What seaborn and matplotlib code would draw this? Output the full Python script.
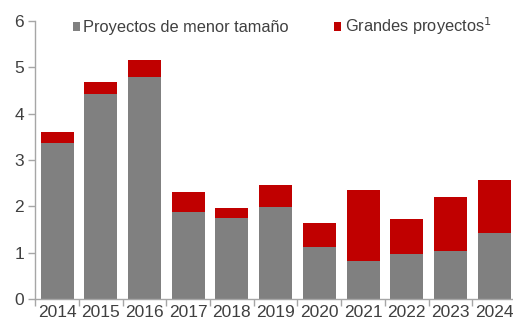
import matplotlib
matplotlib.use("Agg")
import matplotlib.pyplot as plt
import seaborn as sns
import pandas as pd
import numpy as np
from matplotlib.ticker import FixedLocator

years = ["2014", "2015", "2016", "2017", "2018", "2019", "2020", "2021", "2022", "2023", "2024"]
menor = [3.37, 4.43, 4.80, 1.88, 1.75, 1.98, 1.12, 0.81, 0.98, 1.04, 1.42]
grandes = [0.24, 0.26, 0.36, 0.43, 0.22, 0.47, 0.52, 1.55, 0.75, 1.16, 1.14]

total = [a + b for a, b in zip(menor, grandes)]
df = pd.DataFrame({"year": years, "menor": menor, "total": total})

GREY = "#808080"
RED = "#C00000"
TEXT = "#404040"
AXIS = "#A6A6A6"

sns.set_theme(style="white")
plt.rcParams["font.family"] = ["Liberation Sans", "DejaVu Sans"]

fig = plt.figure(figsize=(5.13, 3.25), dpi=100)
ax = fig.add_axes([35.2 / 513, 1 - 299 / 325, 1 - 35.2 / 513, (299 - 21) / 325])

# stacked bars: red total drawn first, grey base drawn on top
sns.barplot(data=df, x="year", y="total", color=RED, width=0.755,
            saturation=1, linewidth=0, ax=ax, label="Grandes proyectos$^{1}$")
sns.barplot(data=df, x="year", y="menor", color=GREY, width=0.755,
            saturation=1, linewidth=0, ax=ax, label="Proyectos de menor tamaño")

ax.set_ylim(0, 6)
ax.set_xlim(-0.5, 10.43)
ax.set_xlabel("")
ax.set_ylabel("")
ax.set_yticks(range(0, 7))

for side in ["top", "right"]:
    ax.spines[side].set_visible(False)
for side in ["left", "bottom"]:
    ax.spines[side].set_color(AXIS)
    ax.spines[side].set_linewidth(1.0)

ax.tick_params(axis="y", which="major", left=True, length=5, width=1,
               color=AXIS, labelcolor=TEXT, labelsize=12.5, pad=3)
ax.tick_params(axis="x", which="major", bottom=False, length=0,
               labelcolor=TEXT, labelsize=12.5, pad=4)
ax.xaxis.set_minor_locator(FixedLocator(np.arange(-0.5, 10.6, 1.0)))
ax.tick_params(axis="x", which="minor", bottom=True, length=5, width=1,
               color=AXIS)

handles, labels = ax.get_legend_handles_labels()
order = [labels.index("Proyectos de menor tamaño"), labels.index("Grandes proyectos$^{1}$")]
leg = ax.legend([handles[i] for i in order], [labels[i] for i in order],
                loc="upper left", bbox_to_anchor=(0.048, 1.072), ncol=2,
                frameon=False, fontsize=11.8, handlelength=0.44, handleheight=0.44,
                handletextpad=0.2, columnspacing=2.75, labelcolor=TEXT)

fig.savefig("out.png", dpi=100)
